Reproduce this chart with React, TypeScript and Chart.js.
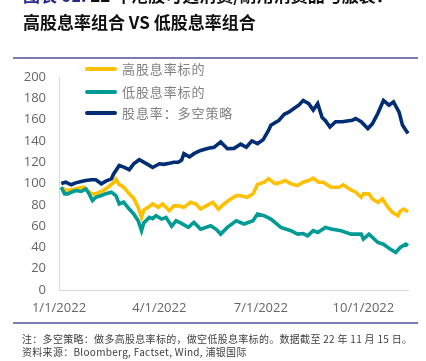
import React, { useEffect, useRef } from "react";
import { Chart, registerables } from "chart.js";

Chart.register(...registerables);

// x values are days since 1 Jan 2022
const tickDays = [0, 90, 181, 273];
const tickLabels = ["1/1/2022", "4/1/2022", "7/1/2022", "10/1/2022"];
const yTicks = [0, 20, 40, 60, 80, 100, 120, 140, 160, 180, 200];

const seriesNames = ["高股息率标的", "低股息率标的", "股息率：多空策略"];
const seriesColors = ["#FFC000", "#009B95", "#002D74"];

const highDays = [2, 6, 11, 15, 22, 26, 29, 33, 40, 44, 49, 51, 54, 58, 63, 67, 71, 74, 76, 80, 84, 89, 93, 99, 103, 107, 112, 118, 123, 127, 132, 138, 143, 148, 152, 159, 163, 169, 174, 178, 184, 188, 194, 199, 203, 208, 214, 219, 224, 228, 233, 237, 244, 251, 255, 260, 266, 271, 273, 278, 281, 286, 290, 295, 299, 304, 306, 309, 313];
const highValues = [96.5, 93.4, 94, 95, 96.5, 93, 90.3, 90.3, 93.4, 96.5, 101, 104, 99, 96.5, 90.3, 86, 77.6, 68.2, 75, 77.6, 80.8, 77.6, 80.8, 74.5, 79, 79, 77.6, 82.4, 80.8, 76, 79, 82.4, 76, 80.8, 84, 88.7, 88.5, 87, 90.3, 99, 101.2, 104.4, 99.7, 101.2, 102.8, 99.7, 98, 101.2, 102.8, 105, 101.2, 101.2, 96.5, 96.5, 98.7, 95, 91.8, 87, 90.3, 90.3, 85.5, 82.4, 85.5, 77.6, 73, 69.8, 74, 76, 73.5];

const lowDays = [2, 5, 8, 11, 15, 20, 24, 27, 30, 33, 38, 42, 47, 51, 54, 58, 63, 67, 71, 74, 76, 81, 84, 87, 92, 96, 101, 105, 109, 116, 121, 127, 136, 141, 145, 151, 159, 166, 174, 178, 184, 190, 199, 208, 214, 219, 223, 228, 232, 239, 244, 253, 262, 271, 273, 278, 286, 291, 297, 302, 306, 311, 313];
const lowValues = [96.5, 90.3, 90.3, 91.8, 93.4, 92.5, 95, 90.3, 84, 87, 88.7, 90.3, 91.8, 88.7, 80.8, 82.4, 76, 71.4, 65, 55.7, 63, 68.2, 67, 69.8, 66.6, 68.2, 60, 65, 63, 58.8, 63.5, 57.2, 60.4, 57, 52.5, 58.8, 65, 62, 65, 71.4, 69.8, 66.6, 58.8, 55.7, 52.5, 53, 50.9, 55.7, 54, 58.8, 57.2, 55.7, 52.5, 52.5, 47.8, 52.5, 44.6, 43, 38.4, 35.2, 39.9, 43, 41.5];

const spreadDays = [2, 6, 11, 15, 20, 24, 29, 33, 38, 42, 47, 49, 54, 58, 63, 67, 72, 76, 81, 84, 90, 94, 99, 103, 107, 110, 112, 117, 121, 127, 134, 139, 145, 151, 157, 163, 168, 173, 178, 183, 188, 190, 197, 202, 206, 210, 215, 219, 224, 228, 232, 236, 239, 243, 248, 254, 263, 266, 271, 277, 281, 286, 291, 296, 300, 305, 308, 313];
const spreadValues = [100, 101.2, 98.8, 100.6, 101.9, 102.8, 103.5, 103.5, 99.7, 102.2, 104.4, 109, 117, 115.4, 113, 118.5, 122.3, 120, 117, 115, 118.5, 118, 119, 120, 120, 122, 128, 125, 128, 131, 133, 134, 139, 132.7, 133, 137, 134, 140, 137.4, 141, 150, 154.7, 159, 165, 167, 170, 173.6, 178, 175, 169, 175, 162, 159, 153, 158, 158, 159.4, 161, 158, 151.6, 156, 166, 178, 173.6, 176.7, 167, 155, 147];

const pts = (xs: number[], ys: number[]) => xs.map((x, i) => ({ x, y: ys[i] }));

const CJK = '"Noto Sans CJK SC", "Noto Sans", sans-serif';

function LineChart() {
  const ref = useRef<HTMLCanvasElement | null>(null);
  useEffect(() => {
    if (!ref.current) return;
    const mk = (i: number, data: { x: number; y: number }[], order: number) => ({
      label: seriesNames[i],
      data,
      borderColor: seriesColors[i],
      backgroundColor: seriesColors[i],
      borderWidth: 3.6,
      pointRadius: 0,
      tension: 0,
      order,
      clip: false as any,
    });
    const chart = new Chart(ref.current, {
      type: "line",
      data: {
        datasets: [
          mk(0, pts(highDays, highValues), 3),
          mk(1, pts(lowDays, lowValues), 2),
          mk(2, pts(spreadDays, spreadValues), 1),
        ],
      },
      options: {
        animation: false,
        responsive: false,
        maintainAspectRatio: false,
        layout: { padding: { left: 0, top: 77, right: 18, bottom: 41 } },
        plugins: { legend: { display: false }, tooltip: { enabled: false } },
        scales: {
          x: {
            type: "linear",
            min: 0,
            max: 313,
            grid: { display: false, drawTicks: false },
            border: { display: true, color: "#d9d9d9", width: 1 },
            afterBuildTicks: (s: any) => {
              s.ticks = tickDays.map((v) => ({ value: v }));
            },
            afterFit: (s: any) => {
              s.height = 30;
            },
            ticks: {
              autoSkip: false,
              maxRotation: 0,
              minRotation: 0,
              padding: 10,
              color: "#666666",
              font: { family: '"Open Sans", sans-serif', size: 13 },
              callback: (v: any) => {
                const k = tickDays.indexOf(Number(v));
                return k >= 0 ? tickLabels[k] : "";
              },
            },
          },
          y: {
            min: 0,
            max: 200,
            grid: { display: false, drawTicks: false },
            border: { display: true, color: "#d9d9d9", width: 1 },
            afterBuildTicks: (s: any) => {
              s.ticks = yTicks.map((v) => ({ value: v }));
            },
            afterFit: (s: any) => {
              s.width = 59;
            },
            ticks: {
              padding: 13,
              color: "#666666",
              font: { family: '"Open Sans", sans-serif', size: 13 },
            },
          },
        },
      } as any,
    });
    return () => chart.destroy();
  }, []);
  return (
    <canvas
      ref={ref}
      width={426}
      height={361}
      style={{ position: "absolute", left: 0, top: 0, width: 426, height: 361 }}
    />
  );
}

export default function App() {
  const legendTops = [69, 92, 113];
  return (
    <div
      style={{
        position: "absolute",
        left: 0,
        top: 0,
        width: 426,
        height: 361,
        overflow: "hidden",
        background: "#ffffff",
      }}
    >
      <LineChart />
      <div
        style={{
          position: "absolute",
          left: 23,
          top: -16,
          whiteSpace: "nowrap",
          fontFamily: CJK,
          fontWeight: 700,
          fontSize: 17,
          lineHeight: "22px",
          color: "#111111",
        }}
      >
        <span style={{ color: "#27278a" }}>图表 61: </span>22 年港股可选消费/耐用消费品与服装：
      </div>
      <div
        style={{
          position: "absolute",
          left: 23,
          top: 11,
          whiteSpace: "nowrap",
          fontFamily: CJK,
          fontWeight: 700,
          fontSize: 17,
          lineHeight: "22px",
          color: "#111111",
        }}
      >
        高股息率组合 VS 低股息率组合
      </div>
      <div style={{ position: "absolute", left: 13, top: 57, width: 405, height: 1.5, background: "#7c7cb4" }} />
      {seriesNames.map((n, i) => (
        <div key={n}>
          <div
            style={{
              position: "absolute",
              left: 85,
              top: legendTops[i] - 2,
              width: 32,
              height: 4,
              borderRadius: 2,
              background: seriesColors[i],
            }}
          />
          <div
            style={{
              position: "absolute",
              left: 122,
              top: legendTops[i] - 10,
              whiteSpace: "nowrap",
              fontFamily: CJK,
              fontSize: 13,
              lineHeight: "20px",
              letterSpacing: 0.9,
              color: "#808080",
            }}
          >
            {n}
          </div>
        </div>
      ))}
      <div style={{ position: "absolute", left: 13, top: 322, width: 405, height: 1.5, background: "#7c7cb4" }} />
      <div
        style={{
          position: "absolute",
          left: 22,
          top: 331,
          whiteSpace: "nowrap",
          fontFamily: CJK,
          fontSize: 10,
          lineHeight: "16px",
          letterSpacing: 0.3,
          color: "#404040",
        }}
      >
        注：多空策略：做多高股息率标的，做空低股息率标的。数据截至 22 年 11 月 15 日。
      </div>
      <div
        style={{
          position: "absolute",
          left: 22,
          top: 344,
          whiteSpace: "nowrap",
          fontFamily: CJK,
          fontSize: 10,
          lineHeight: "16px",
          letterSpacing: 0.3,
          color: "#404040",
        }}
      >
        资料来源：Bloomberg, Factset, Wind, 浦银国际
      </div>
    </div>
  );
}
